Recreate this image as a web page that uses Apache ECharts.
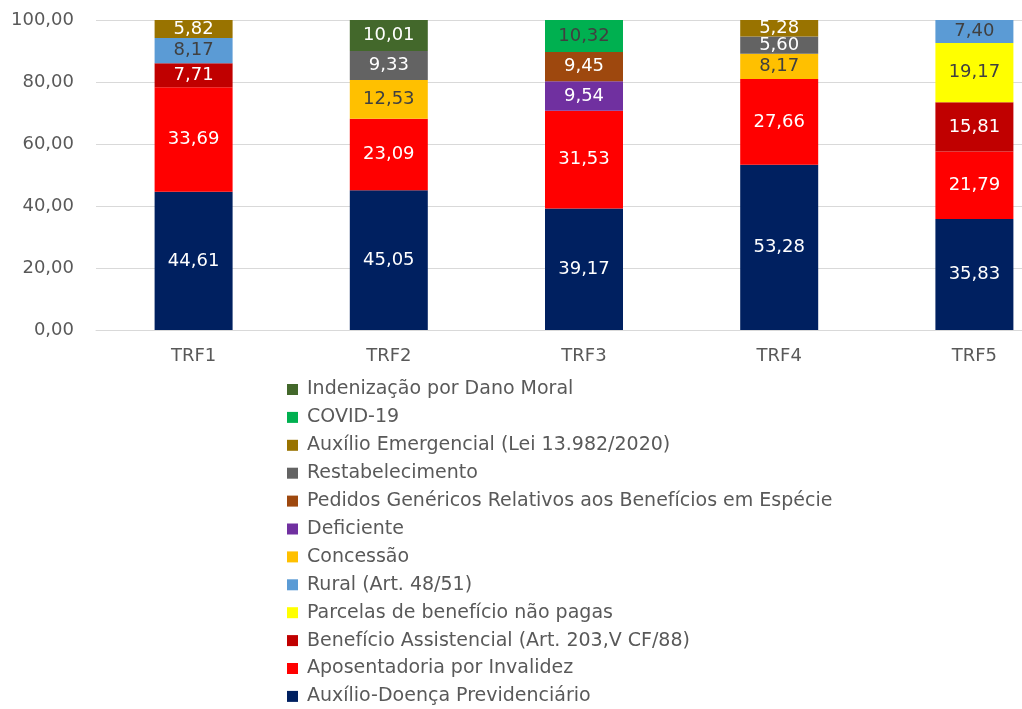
<!DOCTYPE html>
<html>
<head>
<meta charset="utf-8">
<script src="https://cdn.jsdelivr.net/npm/echarts@6/dist/echarts.min.js"></script>
<style>html,body{margin:0;padding:0;background:#fff;}#c{width:1022px;height:709px;}</style>
</head>
<body>
<div id="c"></div>
<script>
const categories = ['TRF1', 'TRF2', 'TRF3', 'TRF4', 'TRF5'];
const yTicks = [0, 20, 40, 60, 80, 100];

const auxilioDoenca   = [44.61, 45.05, 39.17, 53.28, 35.83];
const aposentadoria   = [33.69, 23.09, 31.53, 27.66, 21.79];
const beneficioAssist = [7.71, null, null, null, 15.81];
const parcelas        = [null, null, null, null, 19.17];
const rural           = [8.17, null, null, null, 7.40];
const concessao       = [null, 12.53, null, 8.17, null];
const deficiente      = [null, null, 9.54, null, null];
const pedidos         = [null, null, 9.45, null, null];
const restabelecimento= [null, 9.33, null, 5.60, null];
const auxEmergencial  = [5.82, null, null, 5.28, null];
const covid           = [null, null, 10.32, null, null];
const indenizacao     = [null, 10.01, null, null, null];

const seriesDefs = [
  ['Auxílio-Doença Previdenciário', auxilioDoenca, '#002060', '#ffffff'],
  ['Aposentadoria por Invalidez', aposentadoria, '#ff0000', '#ffffff'],
  ['Benefício Assistencial (Art. 203,V CF/88)', beneficioAssist, '#c00000', '#ffffff'],
  ['Parcelas de benefício não pagas', parcelas, '#ffff00', '#404040'],
  ['Rural (Art. 48/51)', rural, '#5b9bd5', '#404040'],
  ['Concessão', concessao, '#ffc000', '#404040'],
  ['Deficiente', deficiente, '#7030a0', '#ffffff'],
  ['Pedidos Genéricos Relativos aos Benefícios em Espécie', pedidos, '#9e480e', '#ffffff'],
  ['Restabelecimento', restabelecimento, '#636363', '#ffffff'],
  ['Auxílio Emergencial (Lei 13.982/2020)', auxEmergencial, '#997300', '#ffffff'],
  ['COVID-19', covid, '#00b050', '#404040'],
  ['Indenização por Dano Moral', indenizacao, '#43682b', '#ffffff']
];

const fmt = v => Number(v).toFixed(2).replace('.', ',');
const FONT = '"DejaVu Sans", sans-serif';

const chart = echarts.init(document.getElementById('c'), null, {renderer: 'canvas'});
chart.setOption({
  animation: false,
  backgroundColor: '#ffffff',
  grid: {left: 96, top: 20, width: 976, height: 310, containLabel: false, outerBoundsMode: 'none'},
  xAxis: {
    type: 'category',
    data: categories,
    axisLine: {lineStyle: {color: '#d9d9d9', width: 1}},
    axisTick: {show: false},
    axisLabel: {color: '#595959', fontSize: 18, fontFamily: FONT, margin: 17}
  },
  yAxis: {
    type: 'value',
    min: yTicks[0], max: yTicks[yTicks.length - 1], interval: 20,
    axisLine: {show: false},
    axisTick: {show: false},
    splitLine: {lineStyle: {color: '#d9d9d9', width: 1}},
    axisLabel: {color: '#595959', fontSize: 18, fontFamily: FONT, margin: 22, formatter: v => fmt(v)}
  },
  legend: {
    orient: 'vertical',
    left: 287, top: 380,
    padding: 0,
    itemWidth: 11, itemHeight: 11, itemGap: 8.9,
    icon: 'rect',
    data: seriesDefs.map(s => s[0]).reverse(),
    textStyle: {color: '#595959', fontSize: 19, fontFamily: FONT, padding: [0, 0, 0, 4]}
  },
  series: seriesDefs.map(([name, data, color, lc]) => ({
    name, type: 'bar', stack: 'total', data,
    barWidth: 78,
    itemStyle: {color},
    label: {
      show: true, position: 'inside', color: lc,
      fontSize: 18, fontFamily: FONT,
      formatter: p => (p.value == null ? '' : fmt(p.value))
    }
  }))
});
</script>
</body>
</html>
